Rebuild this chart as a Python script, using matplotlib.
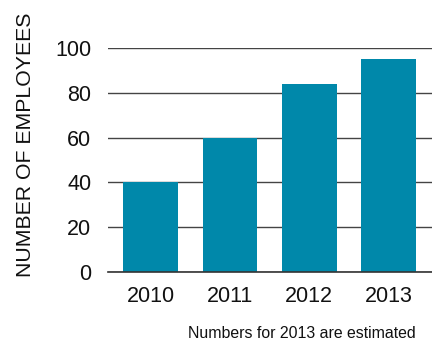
import matplotlib.pyplot as plt

years = ["2010", "2011", "2012", "2013"]
employees = [40, 60, 84, 95]
yticks = [0, 20, 40, 60, 80, 100]

plt.rcParams['font.family'] = ['Liberation Sans', 'DejaVu Sans']

fig = plt.figure(figsize=(4.32, 3.42), dpi=100)
ax = fig.add_axes([108/432, 1-272/342, 1-108/432, 224/342])

x = list(range(len(years)))
ax.bar(x, employees, width=0.69, color='#0088aa', zorder=2)

ax.set_ylim(0, 100)
ax.set_xlim(-0.54, 3.55)
ax.set_yticks(yticks)
ax.set_xticks(x)
ax.set_xticklabels(years)
ax.yaxis.grid(True, color='#444444', linewidth=1.0, zorder=1)
ax.set_axisbelow(True)
ax.tick_params(axis='both', length=0, labelsize=15.5, colors='#111111')
ax.tick_params(axis='y', pad=12)
ax.tick_params(axis='x', pad=10)
for s in ['top', 'right', 'left']:
    ax.spines[s].set_visible(False)
ax.spines['bottom'].set_color('#333333')
ax.spines['bottom'].set_linewidth(1.2)

fig.text(26/432, 1-145/342, "NUMBER OF EMPLOYEES", rotation=90, fontsize=15.3,
         ha='center', va='center', color='#111111')
fig.text(302/432, 1-334/342, "Numbers for 2013 are estimated", fontsize=11.4,
         ha='center', va='center', color='#111111')

fig.savefig("out.png", dpi=100)
